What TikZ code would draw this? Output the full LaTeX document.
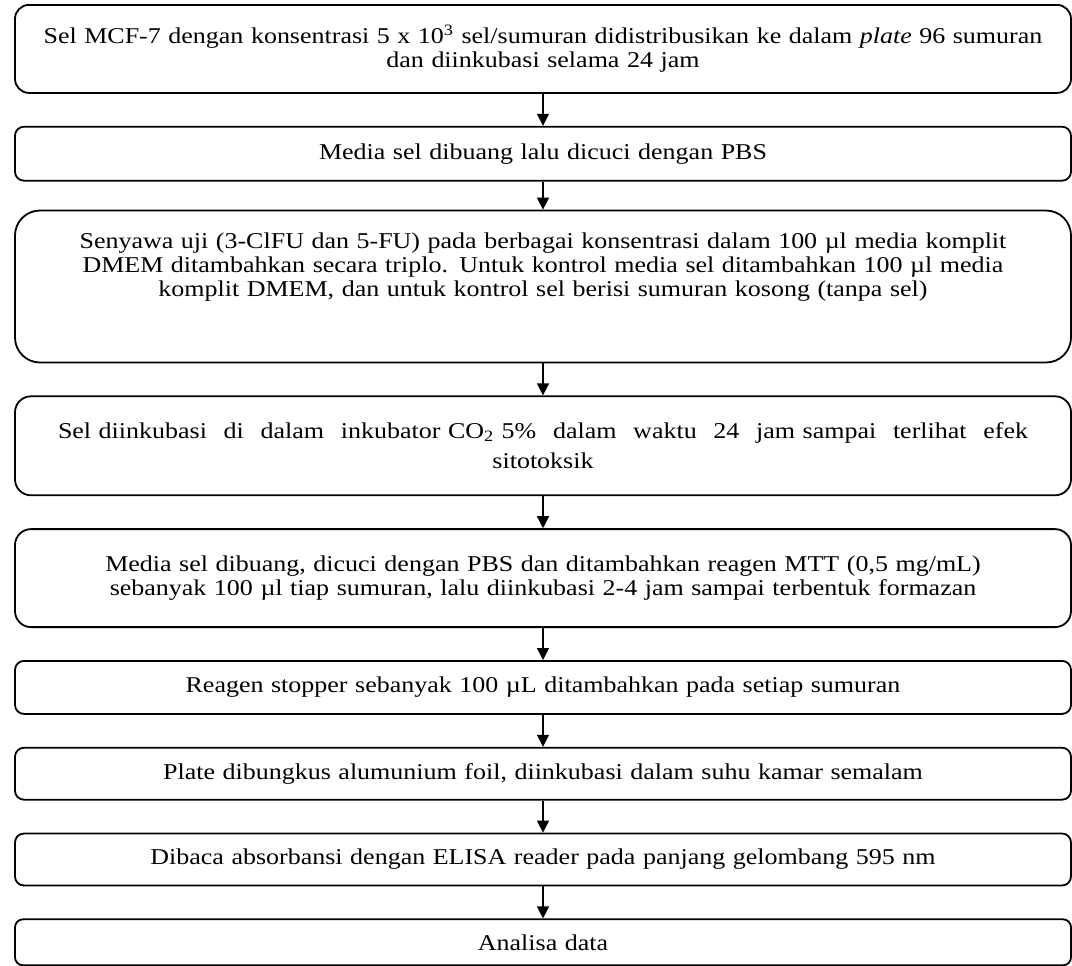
\documentclass[tikz,border=0pt]{standalone}
\usepackage{fontspec}
\setmainfont[FakeStretch=1.15]{Liberation Serif}
\usetikzlibrary{positioning, arrows.meta}

\begin{document}
\begin{tikzpicture}[
    x=0.5pt, y=-0.5pt,
    node distance=16pt,
    stepbox/.style={draw=black, line width=0.9pt, rounded corners=#1, fill=white,
        text width=505pt, inner xsep=11.5pt, inner ysep=0pt, align=center,
        font=\fontsize{11.3}{12}\selectfont},
    stepbox/.default=4.5pt,
    every edge/.append style={line width=0.7pt, -{Triangle[length=6pt, width=6pt]}}
]
   \useasboundingbox (0,0) rectangle (1072,965);

   % Steps
   \node[stepbox=7pt, minimum height=44pt, anchor=north] (s1) at (543,4)
      {Sel MCF-7 dengan konsentrasi 5 x 10\textsuperscript{3} sel/sumuran didistribusikan ke dalam \textit{plate} 96 sumuran\\ dan diinkubasi selama 24 jam};
   \node[stepbox, minimum height=27pt] (s2) [below=of s1]
      {Media sel dibuang lalu dicuci dengan PBS};
   \node[stepbox=12.5pt, minimum height=76pt] (s3) [below=14pt of s2]
      {Senyawa uji (3-ClFU dan 5-FU) pada berbagai konsentrasi dalam 100 µl media komplit\\
       DMEM ditambahkan secara triplo. Untuk kontrol media sel ditambahkan 100 µl media\\
       komplit DMEM, dan untuk kontrol sel berisi sumuran kosong (tanpa sel)\\[10pt]\mbox{}};
   \node[stepbox=8pt, minimum height=49.5pt] (s4) [below=of s3]
      {\hbox to 485pt{Sel diinkubasi\hfill di\hfill dalam\hfill inkubator CO\textsubscript{2} 5\%\hfill dalam\hfill waktu\hfill 24\hfill jam sampai\hfill terlihat\hfill efek}\\[3pt] sitotoksik};
   \node[stepbox=8pt, minimum height=49pt] (s5) [below=of s4]
      {Media sel dibuang, dicuci dengan PBS dan ditambahkan reagen MTT (0,5 mg/mL)\\
       sebanyak 100 µl tiap sumuran, lalu diinkubasi 2-4 jam sampai terbentuk formazan};
   \node[stepbox, minimum height=26.5pt] (s6) [below=of s5]
      {Reagen stopper sebanyak 100 µL ditambahkan pada setiap sumuran};
   \node[stepbox, minimum height=26pt] (s7) [below=of s6]
      {Plate dibungkus alumunium foil, diinkubasi dalam suhu kamar semalam};
   \node[stepbox, minimum height=26pt] (s8) [below=of s7]
      {Dibaca absorbansi dengan ELISA reader pada panjang gelombang 595 nm};
   \node[stepbox=4pt, minimum height=23pt] (s9) [below=of s8]
      {Analisa data};

   % Arrows
   \path
   (s1) edge (s2)
   (s2) edge (s3)
   (s3) edge (s4)
   (s4) edge (s5)
   (s5) edge (s6)
   (s6) edge (s7)
   (s7) edge (s8)
   (s8) edge (s9);
\end{tikzpicture}
\end{document}
